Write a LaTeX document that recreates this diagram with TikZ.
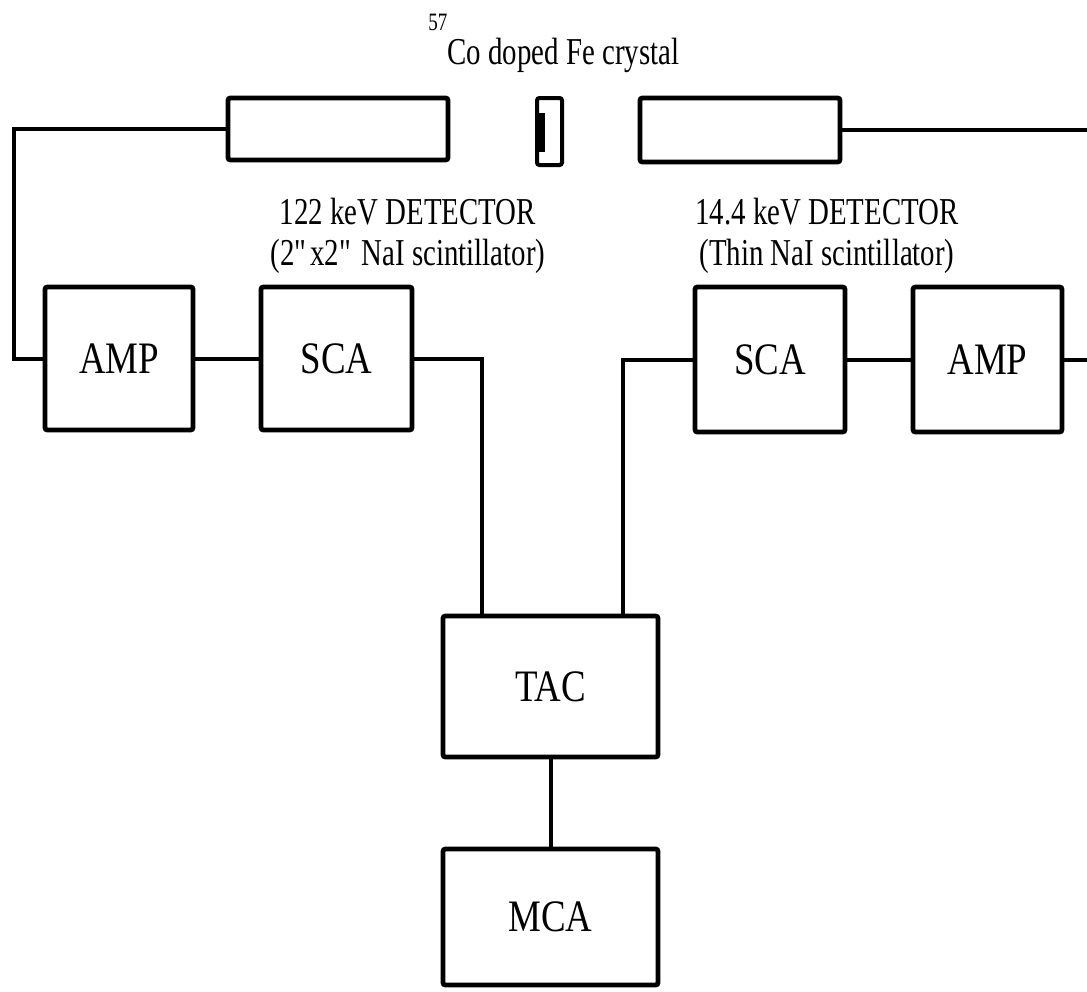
\documentclass[tikz,border=0pt]{standalone}
\usepackage{fontspec}
\setmainfont{Liberation Serif}[FakeStretch=0.82]
\newfontfamily\lblfont{Liberation Serif}[FakeStretch=0.76]
\begin{document}
\begin{tikzpicture}[x=0.5pt,y=-0.5pt,
  box/.style={draw, line width=2.4pt, rounded corners=1.2pt, inner sep=0pt, font=\fontsize{22.5}{24}\selectfont},
  wire/.style={line width=2pt, line join=miter},
  lbl/.style={font=\lblfont\fontsize{19}{20.5}\selectfont, align=center, inner sep=0pt}]
\useasboundingbox (0,0) rectangle (1087,991);
% detectors and source
\node[box, minimum width=110pt, minimum height=31pt] (detL) at (338,129) {};
\node[box, line width=2pt, minimum width=12.5pt, minimum height=33.5pt] (cryst) at (549.5,131.5) {};
\fill (538,113) rectangle (545,152);
\node[box, minimum width=100pt, minimum height=32pt] (detR) at (740,130) {};
% electronics
\node[box, minimum width=74pt, minimum height=71.5pt] (ampL) at (119,358.5) {AMP};
\node[box, minimum width=75.5pt, minimum height=71.5pt] (scaL) at (336.5,358.5) {SCA};
\node[box, minimum width=75pt, minimum height=72.5pt] (scaR) at (770,359.5) {SCA};
\node[box, minimum width=74.5pt, minimum height=72.5pt] (ampR) at (987.5,359.5) {AMP};
\node[box, minimum width=107.5pt, minimum height=70.5pt] (tac) at (550.5,686.5) {TAC};
\node[box, minimum width=107.5pt, minimum height=68pt] (mca) at (550.5,917) {MCA};
% labels
\node[lbl] (labL) at (408,236) {122 keV DETECTOR\\(2\textquotedbl x2\textquotedbl{} NaI scintillator)};
\node[lbl] (labR) at (827,236) {14.4 keV DETECTOR\\(Thin NaI scintillator)};
\node[lbl, anchor=base west] (src) at (447,64) {\llap{\raisebox{17pt}{\fontsize{12.5}{14}\selectfont 57}}Co doped Fe crystal};
% connectors
\coordinate (cL) at (14,129);
\coordinate (tL) at (482,616);
\coordinate (tR) at (623,616);
\coordinate (eR1) at (1095,130);
\coordinate (eR2) at (1095,359.5);
\draw[wire] (detL.west) -- (cL) |- (ampL.west);
\draw[wire] (ampL.east) -- (scaL.west);
\draw[wire] (scaL.east) -| (tL);
\draw[wire] (scaR.west) -| (tR);
\draw[wire] (scaR.east) -- (ampR.west);
\draw[wire] (ampR.east) -- (eR2);
\draw[wire] (detR.east) -- (eR1);
\draw[wire] (tac.south) -- (mca.north);
\end{tikzpicture}
\end{document}
